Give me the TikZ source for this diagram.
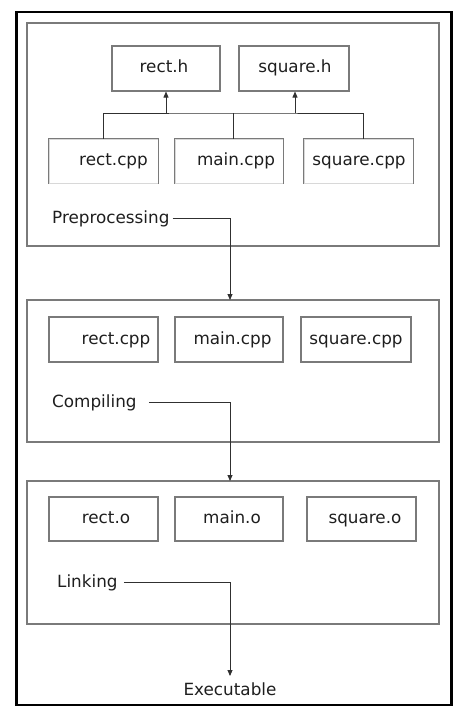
\documentclass[tikz,border=0pt]{standalone}
\usepackage{fontspec}
\setmainfont{DejaVu Sans}
\usetikzlibrary{arrows.meta,calc}
\definecolor{boxgray}{HTML}{7A7A7A}
\definecolor{faintgray}{HTML}{D8D8D8}
\definecolor{linegray}{HTML}{303030}
\definecolor{textgray}{HTML}{1E1E1E}
\tikzset{
  framebox/.style={draw=black, line width=2.8pt, inner sep=0pt},
  stagebox/.style={draw=boxgray, line width=1.1pt, inner sep=0pt, minimum width=412pt},
  filebox/.style={draw=boxgray, line width=1.1pt, inner sep=0pt},
  openbox/.style={draw=faintgray, line width=1pt, inner sep=0pt},
  ftext/.style={inner sep=0pt, anchor=base, text=textgray, font=\fontsize{16.8}{20}\selectfont},
  lbl/.style={inner sep=0pt, anchor=base west, text=textgray, font=\fontsize{16.8}{20}\selectfont},
  conn/.style={draw=linegray, line width=0.9pt},
  arr/.style={-{Triangle[length=6pt,width=5pt]}},
}
\begin{document}
\begin{tikzpicture}[x=1pt,y=-1pt]
\useasboundingbox (0,0) rectangle (469,718);
\node[framebox, minimum width=435pt, minimum height=693pt] (frame) at (234,358.5) {};

% stages
\node[stagebox, minimum height=223pt] (s1) at (233,134.5) {};
\node[stagebox, minimum height=142pt] (s2) at (233,371) {};
\node[stagebox, minimum height=143pt] (s3) at (233,552.5) {};

% headers
\node[filebox, minimum width=108pt, minimum height=45pt] (rh) at (166,68.5) {};
\node[filebox, minimum width=110pt, minimum height=45pt] (sh) at (294,68.5) {};
\node[ftext] (rht) at (164,72) {rect.h};
\node[ftext] (sht) at (295,72) {square.h};

% row 1 (open bottom)
\node[openbox, minimum width=109pt, minimum height=44pt] (rc1) at (103.5,161) {};
\node[openbox, minimum width=108pt, minimum height=44pt] (mc1) at (229,161) {};
\node[openbox, minimum width=109pt, minimum height=44pt] (sc1) at (358.5,161) {};
\foreach \b in {rc1,mc1,sc1}{
  \draw[draw=boxgray, line width=1.1pt] (\b.south west) |- (\b.north east) -- (\b.south east);
}
\node[ftext] (rc1t) at (113.5,165) {rect.cpp};
\node[ftext] (mc1t) at (236,165) {main.cpp};
\node[ftext] (sc1t) at (359,165) {square.cpp};

% include connectors
\coordinate (bus) at (233,113);
\draw[conn] (rc1.north) |- (bus) -| ([xshift=4.5pt]sc1.north);
\draw[conn] (bus) -- (bus |- mc1.north);
\draw[conn,arr] (rh.south |- bus) -- (rh.south);
\draw[conn,arr] ([xshift=1pt]sh.south |- bus) -- ([xshift=1pt]sh.south);

\node[lbl] (pre) at (52,223) {Preprocessing};

% row 2
\node[filebox, minimum width=109pt, minimum height=45pt] (rc2) at (103.5,339.5) {};
\node[filebox, minimum width=108pt, minimum height=45pt] (mc2) at (229,339.5) {};
\node[filebox, minimum width=110pt, minimum height=45pt] (sc2) at (356,339.5) {};
\node[ftext] (rc2t) at (116,344) {rect.cpp};
\node[ftext] (mc2t) at (232.5,344) {main.cpp};
\node[ftext] (sc2t) at (356,344) {square.cpp};
\node[lbl] (comp) at (52,407) {Compiling};

% row 3
\node[filebox, minimum width=109pt, minimum height=44pt] (ro) at (103.5,519) {};
\node[filebox, minimum width=108pt, minimum height=44pt] (mo) at (229,519) {};
\node[filebox, minimum width=109pt, minimum height=44pt] (so) at (361.5,519) {};
\node[ftext] (rot) at (106,523) {rect.o};
\node[ftext] (mot) at (232,523) {main.o};
\node[ftext] (sot) at (365,523) {square.o};
\node[lbl] (link) at (57,587) {Linking};

\node[ftext] (exe) at (230,695) {Executable};

% flow connectors
\coordinate (a1) at (230,300);
\coordinate (a2) at (230,481);
\coordinate (a3) at (230,676);
\draw[conn,arr] ([xshift=3pt]pre.east) -| (a1);
\draw[conn,arr] ([xshift=12pt]comp.east) -| (a2);
\draw[conn,arr] ([xshift=6pt]link.east) -| (a3);
\end{tikzpicture}
\end{document}
